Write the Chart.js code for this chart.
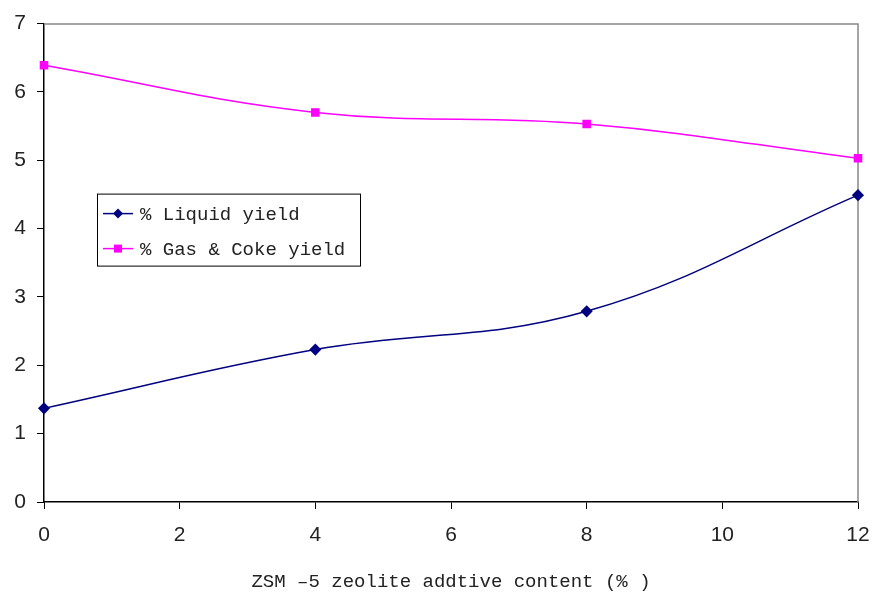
<!DOCTYPE html>
<html>
<head>
<meta charset="utf-8">
<script src="https://cdn.jsdelivr.net/npm/chart.js@4/dist/chart.umd.min.js"></script>
<style>
  html, body { margin: 0; padding: 0; background: #fff; }
  #wrap { width: 873px; height: 597px; }
</style>
</head>
<body>
<div id="wrap"><canvas id="c" width="873" height="597"></canvas></div>
<script>
var xValues = [0, 4, 8, 12];
var liquidYield = [1.37, 2.23, 2.79, 4.49];
var gasCokeYield = [6.39, 5.70, 5.53, 5.03];
var seriesNames = ['% Liquid yield', '% Gas & Coke yield'];
var xTitle = 'ZSM \u20135 zeolite addtive content (% )';

var tickFont = { family: '"Liberation Sans", Arial, sans-serif', size: 21 };
var monoFamily = '"Liberation Mono", "Courier New", monospace';

function points(ys) {
    return xValues.map(function(x, i) { return { x: x, y: ys[i] }; });
}

// gray frame on top/right, like the spreadsheet plot area
var framePlugin = {
    id: 'frame',
    beforeDatasetsDraw: function(chart) {
        var a = chart.chartArea, ctx = chart.ctx;
        ctx.save();
        ctx.strokeStyle = '#888';
        ctx.lineWidth = 1.5;
        ctx.beginPath();
        ctx.moveTo(a.left, a.top + 0.5);
        ctx.lineTo(a.right, a.top + 0.5);
        ctx.lineTo(a.right, a.bottom);
        ctx.stroke();
        ctx.restore();
    }
};

// legend box drawn inside the plot
var boxLegend = {
    id: 'boxLegend',
    afterDraw: function(chart) {
        var a = chart.chartArea, ctx = chart.ctx;
        var x0 = a.left + 53, y0 = a.top + 170, w = 263, h = 72;
        ctx.save();
        ctx.fillStyle = '#fff';
        ctx.fillRect(x0, y0, w, h);
        ctx.strokeStyle = '#000';
        ctx.lineWidth = 1;
        ctx.strokeRect(x0 + 0.5, y0 + 0.5, w, h);
        chart.data.datasets.forEach(function(ds, i) {
            var y = y0 + 20 + i * 35;
            ctx.strokeStyle = ds.borderColor;
            ctx.lineWidth = 1.5;
            ctx.beginPath();
            ctx.moveTo(x0 + 6, y);
            ctx.lineTo(x0 + 36, y);
            ctx.stroke();
            ctx.fillStyle = ds.borderColor;
            if (ds.pointStyle == 'rect') {
                ctx.fillRect(x0 + 17, y - 4, 8, 8);
            } else {
                ctx.beginPath();
                ctx.moveTo(x0 + 21, y - 5);
                ctx.lineTo(x0 + 26, y);
                ctx.lineTo(x0 + 21, y + 5);
                ctx.lineTo(x0 + 16, y);
                ctx.closePath();
                ctx.fill();
            }
            ctx.fillStyle = '#222';
            ctx.font = '19px ' + monoFamily;
            ctx.textBaseline = 'middle';
            ctx.fillText(ds.label, x0 + 43, y + 1);
        });
        ctx.restore();
    }
};

new Chart(document.getElementById('c').getContext('2d'), {
    type: 'line',
    data: {
        datasets: [
            {
                label: seriesNames[0],
                data: points(liquidYield),
                borderColor: '#000080',
                backgroundColor: '#000080',
                borderWidth: 1.5,
                pointStyle: 'rectRot',
                pointRadius: 5,
                tension: 0.4,
                clip: false
            },
            {
                label: seriesNames[1],
                data: points(gasCokeYield),
                borderColor: '#ff00ff',
                backgroundColor: '#ff00ff',
                borderWidth: 1.5,
                pointStyle: 'rect',
                pointRadius: 5,
                tension: 0.4,
                clip: false
            }
        ]
    },
    options: {
        responsive: false,
        animation: false,
        layout: { padding: { top: 22, right: 0, left: 0, bottom: 0 } },
        plugins: {
            legend: { display: false },
            tooltip: { enabled: false }
        },
        scales: {
            x: {
                type: 'linear',
                min: 0,
                max: 12,
                ticks: { stepSize: 2, color: '#222', font: tickFont, padding: 14 },
                grid: { drawOnChartArea: false, tickLength: 7, color: '#000' },
                border: { color: '#000', width: 1.5 },
                title: {
                    display: true,
                    text: xTitle,
                    color: '#222',
                    font: { family: monoFamily, size: 19 },
                    padding: { top: 18 }
                },
                afterFit: function(s) {
                    s.height = 95;
                    s.paddingRight = 15;
                    s.paddingLeft = 0;
                }
            },
            y: {
                min: 0,
                max: 7,
                ticks: { stepSize: 1, color: '#222', font: tickFont, padding: 11 },
                grid: { drawOnChartArea: false, tickLength: 7, color: '#000' },
                border: { color: '#000', width: 1.5 },
                afterFit: function(s) { s.width = 44; }
            }
        }
    },
    plugins: [framePlugin, boxLegend]
});
</script>
</body>
</html>
